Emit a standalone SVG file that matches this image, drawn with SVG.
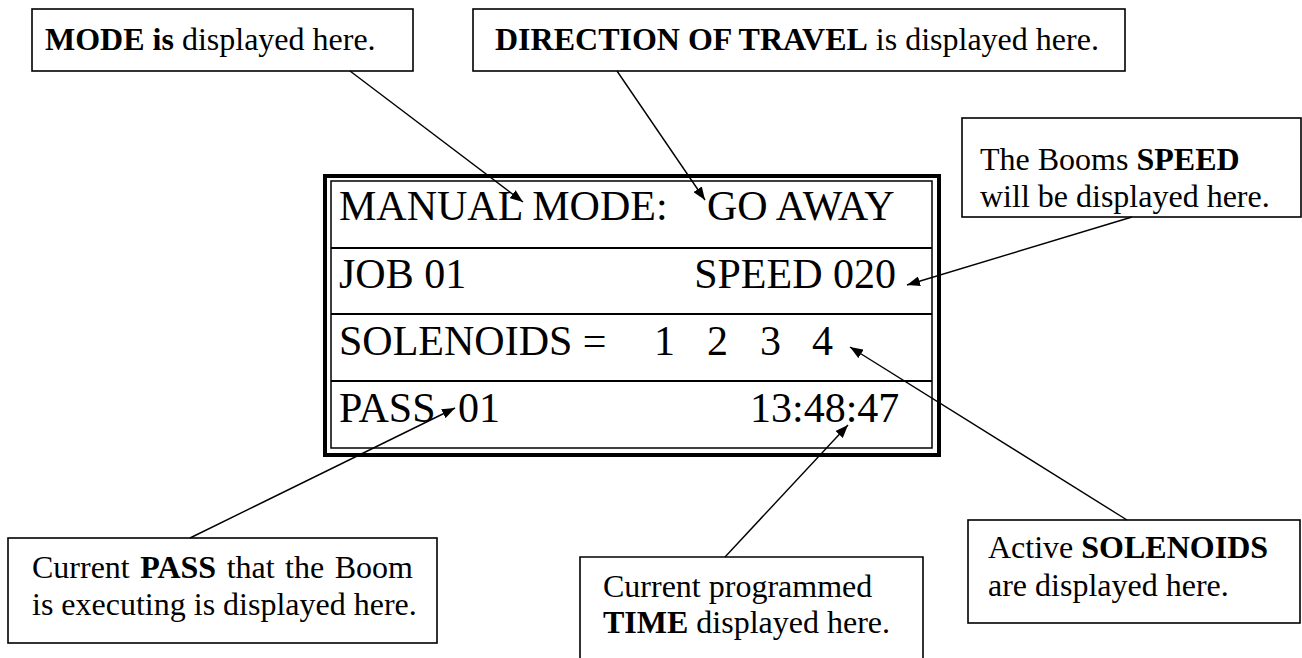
<svg xmlns="http://www.w3.org/2000/svg" width="1302" height="658" viewBox="0 0 1302 658">
<style>
.box{fill:#fff;stroke:#000;stroke-width:1.6}
.t{font-family:"Liberation Serif","Times New Roman",serif;font-size:32px;fill:#000}
.b{font-weight:bold}
.lcd{font-family:"Liberation Serif","Times New Roman",serif;font-size:42px;fill:#000}
.ln{stroke:#000;stroke-width:1.4;fill:none;marker-end:url(#ah)}
</style>
<defs>
<marker id="ah" markerUnits="userSpaceOnUse" markerWidth="14" markerHeight="10" refX="13" refY="5" orient="auto">
<path d="M0,0 L13,5 L0,10 z" fill="#000"/>
</marker>
</defs>
<rect width="1302" height="658" fill="#fff"/>
<g id="lcd">
<rect x="325" y="176" width="614" height="279" fill="#fff" stroke="#000" stroke-width="4"/>
<rect x="331" y="181" width="601" height="267" fill="none" stroke="#000" stroke-width="1.5"/>
<line x1="331" y1="248" x2="932" y2="248" stroke="#000" stroke-width="2"/>
<line x1="331" y1="314" x2="932" y2="314" stroke="#000" stroke-width="2"/>
<line x1="331" y1="381" x2="932" y2="381" stroke="#000" stroke-width="2"/>
<text class="lcd" x="339" y="220">MANUAL MODE:</text>
<text class="lcd" x="707" y="220">GO AWAY</text>
<text class="lcd" x="339" y="288">JOB 01</text>
<text class="lcd" x="896" y="288" text-anchor="end">SPEED 020</text>
<text class="lcd" x="339" y="355">SOLENOIDS =</text>
<text class="lcd" x="654" y="355">1</text>
<text class="lcd" x="707" y="355">2</text>
<text class="lcd" x="760" y="355">3</text>
<text class="lcd" x="812" y="355">4</text>
<text class="lcd" x="339" y="422">PASS</text>
<text class="lcd" x="458" y="422">01</text>
<text class="lcd" x="750" y="422">13:48:47</text>
</g>
<g id="mode">
<rect class="box" x="32" y="9" width="381" height="62"/>
<text class="t" x="45" y="50"><tspan class="b">MODE is</tspan> displayed here.</text>
</g>
<g id="direction">
<rect class="box" x="473" y="9" width="652" height="62"/>
<text class="t" x="495" y="50"><tspan class="b">DIRECTION OF TRAVEL</tspan> is displayed here.</text>
</g>
<g id="speed">
<rect class="box" x="962" y="118" width="339" height="99"/>
<text class="t" x="980" y="170">The Booms <tspan class="b">SPEED</tspan></text>
<text class="t" x="980" y="207">will be displayed here.</text>
</g>
<g id="pass">
<rect class="box" x="8" y="538" width="429" height="105"/>
<text class="t" x="32" y="578" word-spacing="2.5">Current <tspan class="b">PASS</tspan> that the Boom</text>
<text class="t" x="32" y="615">is executing is displayed here.</text>
</g>
<g id="time">
<path d="M580,662 L580,557 L923,557 L923,662" fill="#fff" stroke="#000" stroke-width="1.6"/>
<text class="t" x="603" y="597">Current programmed</text>
<text class="t" x="603" y="633"><tspan class="b">TIME</tspan> displayed here.</text>
</g>
<g id="solenoids">
<rect class="box" x="968" y="520" width="332" height="103"/>
<text class="t" x="988" y="558">Active <tspan class="b">SOLENOIDS</tspan></text>
<text class="t" x="988" y="596">are displayed here.</text>
</g>
<g id="connectors">
<line class="ln" x1="350" y1="71" x2="523" y2="202"/>
<line class="ln" x1="617" y1="71" x2="705" y2="200"/>
<line class="ln" x1="1132" y1="217" x2="907" y2="285"/>
<line class="ln" x1="1127" y1="520" x2="850" y2="347"/>
<line class="ln" x1="190" y1="538" x2="455" y2="408"/>
<line class="ln" x1="725" y1="557" x2="848" y2="425"/>
</g>
</svg>
